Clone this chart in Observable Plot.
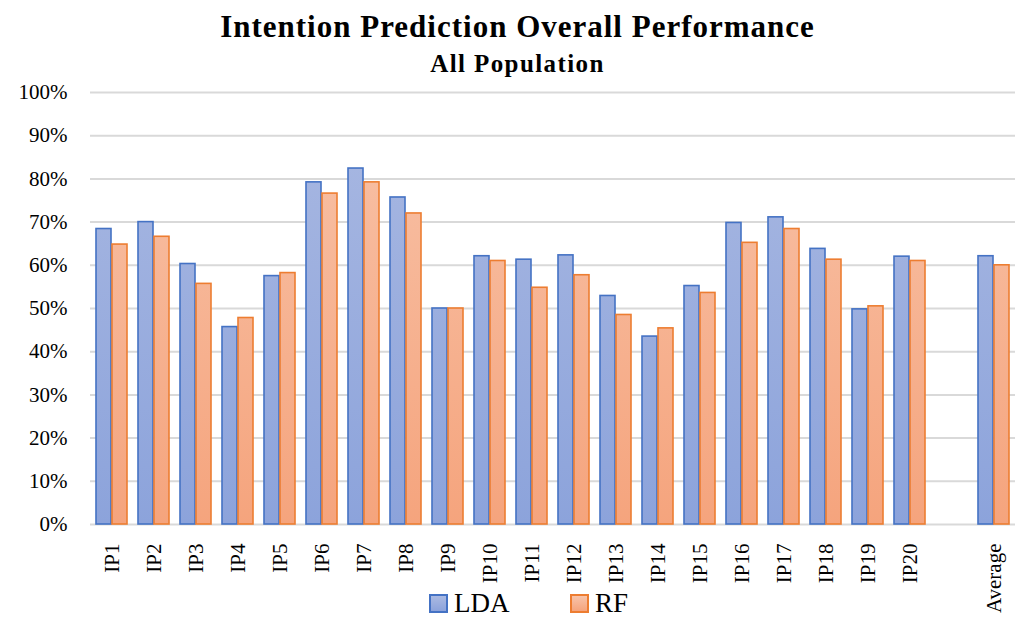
<!DOCTYPE html>
<html>
<head>
<meta charset="utf-8">
<script src="https://cdn.jsdelivr.net/npm/d3@7"></script>
<script src="https://cdn.jsdelivr.net/npm/@observablehq/plot@0.6"></script>
<style>
  html, body { margin: 0; padding: 0; background: #fff; }
  #wrap { position: relative; width: 1035px; height: 619px; overflow: hidden; font-family: "Liberation Serif", "DejaVu Serif", serif; color: #000; }
  #title { position: absolute; left: 0; width: 1035px; top: 9px; text-align: center; font-size: 31px; font-weight: bold; line-height: 36px; letter-spacing: 1px; }
  #subtitle { position: absolute; left: 0; width: 1035px; top: 50px; text-align: center; font-size: 25px; font-weight: bold; line-height: 28px; letter-spacing: 1.4px; }
  #chart { position: absolute; left: 0; top: 80px; }
  #legend { position: absolute; top: 588px; left: 0; width: 1035px; height: 30px; }
  .sw { position: absolute; width: 15px; height: 15px; top: 6px; border: 2px solid; }
  .lt { position: absolute; top: 0; font-size: 27px; line-height: 30px; }
</style>
</head>
<body>
<div id="wrap">
  <div id="title"></div>
  <div id="subtitle"></div>
  <div id="chart"></div>
  <div id="legend"></div>
</div>
<script>
const titleText = "Intention Prediction Overall Performance";
const subtitleText = "All Population";
const categories = ["IP1","IP2","IP3","IP4","IP5","IP6","IP7","IP8","IP9","IP10",
  "IP11","IP12","IP13","IP14","IP15","IP16","IP17","IP18","IP19","IP20"," ","Average"];
const valueCategories = ["IP1","IP2","IP3","IP4","IP5","IP6","IP7","IP8","IP9","IP10",
  "IP11","IP12","IP13","IP14","IP15","IP16","IP17","IP18","IP19","IP20","Average"];
const ldaValues = [68.4,70.0,60.3,45.7,57.5,79.2,82.4,75.7,50.0,62.1,
  61.3,62.3,52.9,43.5,55.2,69.8,71.1,63.8,49.8,62.0,62.1];
const rfValues = [64.8,66.6,55.7,47.8,58.2,76.6,79.2,72.0,50.0,61.0,
  54.8,57.7,48.5,45.4,53.6,65.2,68.4,61.3,50.5,61.0,60.0];
const seriesNames = ["LDA","RF"];
const yTicks = [0,10,20,30,40,50,60,70,80,90,100];

const colors = {
  LDA: { stroke: "#4472c4", top: "#aab9e2", bottom: "#8ca3db" },
  RF:  { stroke: "#ed7d31", top: "#f8c3a9", bottom: "#f5a47d" }
};

document.getElementById("title").textContent = titleText;
document.getElementById("subtitle").textContent = subtitleText;

const rows = valueCategories.map((c, i) => ({cat: c, LDA: ldaValues[i], RF: rfValues[i]}));

const plot = Plot.plot({
  width: 1035,
  height: 539,
  marginLeft: 90,
  marginRight: 20,
  marginTop: 12,
  marginBottom: 95,
  style: { fontFamily: "Liberation Serif, DejaVu Serif, serif", fontSize: "21px", color: "#000", background: "transparent" },
  x: { domain: categories, paddingInner: 0.64, paddingOuter: 0.32, label: null, tickSize: 0, tickPadding: 19, tickRotate: -90 },
  y: { domain: [0, 100], ticks: yTicks, tickFormat: d => d + "%", label: null, tickSize: 0, tickPadding: 23 },
  marks: [
    Plot.ruleY(yTicks, { stroke: "#d9d9d9", strokeWidth: 2 }),
    Plot.barY(rows, { x: "cat", y: "LDA", dx: -8, fill: "url(#gradLDA)", stroke: colors.LDA.stroke, strokeWidth: 1.6 }),
    Plot.barY(rows, { x: "cat", y: "RF", dx: 8, fill: "url(#gradRF)", stroke: colors.RF.stroke, strokeWidth: 1.6 })
  ]
});

const svg = d3.select(plot);
const defs = svg.insert("defs", ":first-child");
for (const s of seriesNames) {
  const g = defs.append("linearGradient").attr("id", "grad" + s)
    .attr("gradientUnits", "userSpaceOnUse")
    .attr("x1", 0).attr("x2", 0).attr("y1", 12).attr("y2", 444);
  g.append("stop").attr("offset", "0%").attr("stop-color", colors[s].top);
  g.append("stop").attr("offset", "100%").attr("stop-color", colors[s].bottom);
}

document.getElementById("chart").appendChild(plot);

const legend = document.getElementById("legend");
const legendPos = { LDA: 429, RF: 570 };
for (const s of seriesNames) {
  const sw = document.createElement("div");
  sw.className = "sw";
  sw.style.left = legendPos[s] + "px";
  sw.style.borderColor = colors[s].stroke;
  sw.style.background = `linear-gradient(${colors[s].top}, ${colors[s].bottom})`;
  legend.appendChild(sw);
  const t = document.createElement("div");
  t.className = "lt";
  t.style.left = (legendPos[s] + 25) + "px";
  t.textContent = s;
  legend.appendChild(t);
}
</script>
</body>
</html>
